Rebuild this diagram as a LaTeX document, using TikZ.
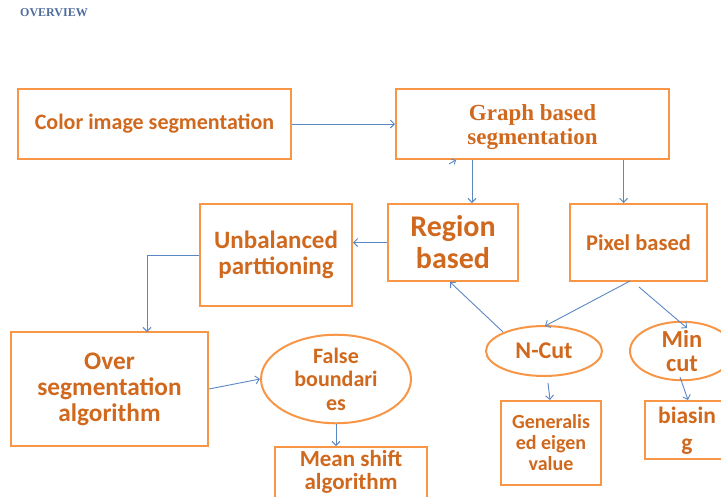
\documentclass[tikz,border=0pt]{standalone}
\usepackage{fontspec}
\setmainfont{Carlito}
\newfontfamily\serifb{Liberation Serif}
\usetikzlibrary{arrows.meta,shapes.geometric}
\definecolor{oborder}{HTML}{F79646}
\definecolor{otext}{HTML}{D0691E}
\definecolor{ablue}{HTML}{5B87C5}
\definecolor{ovblue}{HTML}{4F6D9A}
\tikzset{
  box/.style={draw=oborder,line width=2pt,fill=white,text=otext,font=\bfseries,align=center,inner sep=2pt},
  oval/.style={ellipse,draw=oborder,line width=2pt,fill=white,text=otext,font=\bfseries,align=center,inner sep=0pt},
  arr/.style={draw=ablue,line width=0.9pt,-{Straight Barb[length=4pt,width=8pt]}},
  lbl/.style={text=otext,align=center,inner sep=0pt},
}
\begin{document}
\begin{tikzpicture}[x=1pt,y=1pt]
\useasboundingbox (0,0) rectangle (721,-496);
\clip (0,0) rectangle (721,-496);
\node[anchor=west,text=ovblue,font=\serifb\bfseries\fontsize{12}{13}\selectfont,inner sep=0pt] (ov) at (20,-13) {OVERVIEW};

\node[box,minimum width=273pt,minimum height=70pt,font=\bfseries\fontsize{22}{25}\selectfont] (color) at (154.5,-124) {Color image segmentation};
\node[box,minimum width=273pt,minimum height=70pt] (graph) at (532.5,-124) {};
\node[lbl,font=\serifb\bfseries\fontsize{23}{24}\selectfont] (graphtxt) at (532.5,-127) {Graph based\\segmentation};
\node[box,minimum width=130pt,minimum height=77pt,font=\bfseries\fontsize{30}{32}\selectfont] (region) at (453,-242.5) {Region\\based};
\node[box,minimum width=137pt,minimum height=77pt,font=\bfseries\fontsize{22.5}{25}\selectfont] (pixel) at (638.5,-242.5) {Pixel based};
\node[box,minimum width=152pt,minimum height=102pt,font=\bfseries\fontsize{25}{26}\selectfont] (unbal) at (276,-255) {Unbalanced\\parttioning};
\node[box,minimum width=197pt,minimum height=114pt,font=\bfseries\fontsize{25.3}{26}\selectfont] (over) at (109.5,-389) {Over\\segmentation\\algorithm};
\node[oval,minimum width=150pt,minimum height=68pt,font=\bfseries\fontsize{22}{23.5}\selectfont] (false) at (336,-379) {False\\boundari\\es};
\node[box,minimum width=152pt,minimum height=60pt,anchor=north] (mean) at (351,-446) {};
\node[lbl,font=\bfseries\fontsize{23}{23}\selectfont,anchor=north] (meantxt) at (351,-450) {Mean shift\\algorithm};
\node[oval,minimum width=116pt,minimum height=50pt,font=\bfseries\fontsize{24}{24}\selectfont] (ncut) at (544,-351) {N-Cut};
\node[oval,minimum width=104pt,minimum height=50pt,font=\bfseries\fontsize{24.5}{24}\selectfont] (mincut) at (682,-351) {Min\\cut};
\node[box,minimum width=100pt,minimum height=84pt,font=\bfseries\fontsize{20}{21}\selectfont] (gen) at (551,-443) {Generalis\\ed eigen\\value};
\node[box,minimum width=100pt,minimum height=58pt] (bias) at (695,-430) {};
\node[lbl,font=\bfseries\fontsize{23.5}{27}\selectfont] (biastxt) at (687,-431) {biasin\\g};

\draw[arr] (color.east) -- (graph.west);
\draw[arr] (graph.south -| region.center) ++(19,0) coordinate (g1) -- (g1 |- region.north);
\draw[arr] (graph.south -| pixel.center) ++(-15,0) coordinate (g2) -- (g2 |- pixel.north);
\draw[arr] (region.west) -- (region.west -| unbal.east);
\draw[arr] (unbal.west) -- (147,-255) -- (147,-332);
\draw[arr] (over.east) -- (false.west);
\draw[arr] (false.south) -- (mean.north -| false.south);
\coordinate (p1) at (630,-281);
\coordinate (p2) at (639,-287);
\coordinate (n1) at (503,-332);
\coordinate (r1) at (450,-282);
\draw[arr] (p1) -- (545,-326);
\draw[arr] (p2) -- (687,-328);
\draw[arr] (n1) -- (r1);
\draw[arr] (548,-383) -- (gen.north -| 550,0);
\draw[arr] (680,-377) -- (bias.north -| 688,0);
\draw[arr,-{Straight Barb[length=3pt,width=6pt]}] (449,-164) -- (456,-160);
\end{tikzpicture}
\end{document}
